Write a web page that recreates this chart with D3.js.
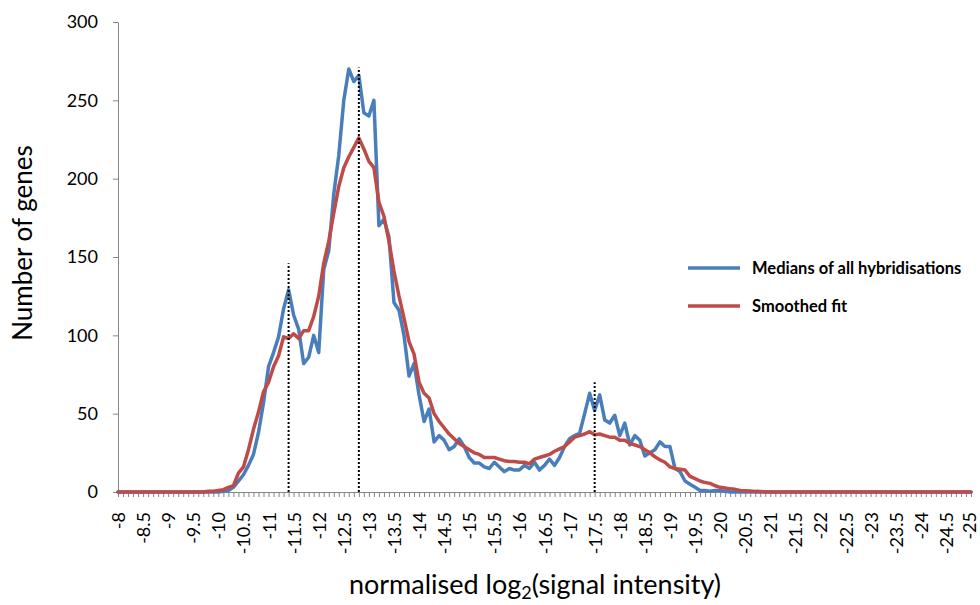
<!DOCTYPE html>
<html>
<head>
<meta charset="utf-8">
<script src="https://cdn.jsdelivr.net/npm/d3@7"></script>
<style>
    body { margin: 0; background: #fff; }
    text { font-family: Lato, 'Open Sans', sans-serif; }
</style>
</head>
<body>
<div id="chart"></div>
<script>
const margin = {
    left: 118,
    right: 9,
    top: 22,
    bottom: 113
}
const svgWidth = 980
const svgHeight = 605
const width = svgWidth - margin.left - margin.right
const height = svgHeight - margin.top - margin.bottom

// categories go from -8 to -25 in steps of 0.1 (171 of them)
const categories = d3.range(171).map(i => String(+(-8 - i / 10).toFixed(1)))

const xTickLabels = ['-8', '-8.5', '-9', '-9.5', '-10', '-10.5', '-11', '-11.5', '-12', '-12.5',
    '-13', '-13.5', '-14', '-14.5', '-15', '-15.5', '-16', '-16.5', '-17', '-17.5',
    '-18', '-18.5', '-19', '-19.5', '-20', '-20.5', '-21', '-21.5', '-22', '-22.5',
    '-23', '-23.5', '-24', '-24.5', '-25']

const yTicks = [0, 50, 100, 150, 200, 250, 300]

// medians of all hybridisations (blue)
const medians = [
    0, 0, 0, 0, 0, 0, 0, 0, 0, 0,
    0, 0, 0, 0, 0, 0, 0, 0, 0, 0,
    0, 0.5, 1, 3, 7, 11, 17, 24, 38, 57,
    80, 89, 99, 117, 129, 113, 104, 82, 86, 100,
    89, 142, 154, 190, 215, 250, 270, 262, 266, 242,
    240, 250, 170, 174, 163, 121, 116, 100, 74, 82,
    62, 45, 53, 32, 36, 33, 27, 29, 34, 29,
    22, 18.5, 18.5, 16, 15, 19, 16, 13, 15, 14,
    14, 17, 15, 19, 14, 17, 21, 17, 22, 29,
    34, 36, 37.5, 50, 63, 52, 62, 46, 44, 49,
    36, 44, 30, 36, 33, 23, 25, 27, 32, 29,
    29, 15, 13, 7, 5, 3, 1, 1, 0.5, 1,
    1, 0.5, 0, 0, 0, 0, 0, 0, 0, 0,
    0, 0, 0, 0, 0, 0, 0, 0, 0, 0,
    0, 0, 0, 0, 0, 0, 0, 0, 0, 0,
    0, 0, 0, 0, 0, 0, 0, 0, 0, 0,
    0, 0, 0, 0, 0, 0, 0, 0, 0, 0,
    0
]

// smoothed fit (red)
const smoothed = [
    0, 0, 0, 0, 0, 0, 0, 0, 0, 0,
    0, 0, 0, 0, 0, 0, 0, 0, 0.5, 0.5,
    1, 1.5, 3, 4, 12, 16, 27, 40, 51, 64,
    70, 80, 87, 99, 98, 101, 98, 103, 103, 112,
    125, 146, 160, 178, 195, 207, 214, 220, 226, 219,
    211, 207, 185, 176, 160, 141, 125, 111, 96, 88,
    70, 63, 60, 50, 45, 41, 37, 34, 31, 29,
    27, 25, 24, 22, 22, 22, 21, 20, 19.5, 19.5,
    19, 19, 18, 21, 22, 23, 24, 26, 27.5, 29,
    32, 35, 36, 37, 38.5, 36.5, 37, 36, 35, 35,
    33, 33, 31, 30, 29, 27, 25, 22.5, 20.5, 19,
    16, 15, 14.5, 14, 10, 8.5, 7, 6, 5.5, 4,
    3, 2.5, 2, 1.7, 1, 0.8, 0.6, 0.4, 0.3, 0.1,
    0, 0, 0, 0, 0, 0, 0, 0, 0, 0,
    0, 0, 0, 0, 0, 0, 0, 0, 0, 0,
    0, 0, 0, 0, 0, 0, 0, 0, 0, 0,
    0, 0, 0, 0, 0, 0, 0, 0, 0, 0,
    0
]

// dotted markers at the three peaks
const peakCategories = ['-11.4', '-12.8', '-17.5']
const peakTops = [146, 271, 70]

const seriesNames = ['Medians of all hybridisations', 'Smoothed fit']
const seriesColors = ['#4A7EBB', '#BE4B48']

const axisColor = '#868686'

let svg = d3.select('#chart')
    .append('svg')
    .attr('width', svgWidth)
    .attr('height', svgHeight)

let g = svg.append('g')
    .attr('transform', `translate(${margin.left}, ${margin.top})`)

const x = d3.scalePoint()
    .domain(categories)
    .range([0, width])

const y = d3.scaleLinear()
    .domain([0, 300])
    .range([height, 0])

// y axis
const yAxis = g.append('g')
    .call(d3.axisLeft(y).tickValues(yTicks).tickSize(5).tickSizeOuter(0).tickPadding(15))
yAxis.select('.domain').attr('stroke', axisColor)
yAxis.selectAll('.tick line').attr('stroke', axisColor)
yAxis.selectAll('.tick text')
    .style('font-size', '18px')
    .style('font-family', 'Lato')
    .attr('fill', '#000')

// x axis, a tick on every category
const xAxis = g.append('g')
    .attr('transform', `translate(0, ${height})`)
    .call(d3.axisBottom(x).tickSize(5).tickSizeOuter(0).tickFormat(''))
xAxis.select('.domain').attr('stroke', axisColor)
xAxis.selectAll('.tick line').attr('stroke', axisColor)

// label on every 5th category, rotated (last one nudged so it stays on the page)
g.selectAll('.xlabel')
    .data(xTickLabels)
    .join('text')
    .attr('class', 'xlabel')
    .attr('transform', (d, i) => `translate(${Math.min(x(categories[i * 5]), width - 2)}, ${height + 20}) rotate(-90)`)
    .attr('text-anchor', 'end')
    .attr('dominant-baseline', 'central')
    .style('font-size', '18px')
    .text(d => d)

const line = d3.line()
    .x((d, i) => x(categories[i]))
    .y(d => y(d))

const allSeries = [medians, smoothed]

g.selectAll('.series')
    .data(allSeries)
    .join('path')
    .attr('class', 'series')
    .attr('d', d => line(d))
    .attr('fill', 'none')
    .attr('stroke', (d, i) => seriesColors[i])
    .attr('stroke-width', 3.5)
    .attr('stroke-linejoin', 'round')
    .attr('stroke-linecap', 'round')

g.selectAll('.peak')
    .data(peakCategories)
    .join('line')
    .attr('class', 'peak')
    .attr('x1', d => x(d))
    .attr('x2', d => x(d))
    .attr('y1', y(0))
    .attr('y2', (d, i) => y(peakTops[i]))
    .attr('stroke', '#000')
    .attr('stroke-width', 2)
    .attr('stroke-dasharray', '2,2')

// legend
let legend = svg.selectAll('.legend')
    .data(seriesNames)
    .join('g')
    .attr('class', 'legend')
    .attr('transform', (d, i) => `translate(688, ${268 + i * 38})`)

legend.append('line')
    .attr('x1', 0)
    .attr('x2', 52)
    .attr('stroke', (d, i) => seriesColors[i])
    .attr('stroke-width', 3.5)

legend.append('text')
    .attr('x', 64)
    .attr('y', 6)
    .style('font-size', '16.5px')
    .style('font-weight', 'bold')
    .text(d => d)

// axis titles
svg.append('text')
    .attr('transform', `translate(32, 243) rotate(-90)`)
    .attr('text-anchor', 'middle')
    .style('font-size', '26px')
    .text('Number of genes')

let xTitle = svg.append('text')
    .attr('x', 535)
    .attr('y', 594)
    .attr('text-anchor', 'middle')
    .style('font-size', '27px')
xTitle.append('tspan').text('normalised log')
xTitle.append('tspan').attr('dy', 5).style('font-size', '18px').text('2')
xTitle.append('tspan').attr('dy', -5).text('(signal intensity)')
</script>
</body>
</html>
